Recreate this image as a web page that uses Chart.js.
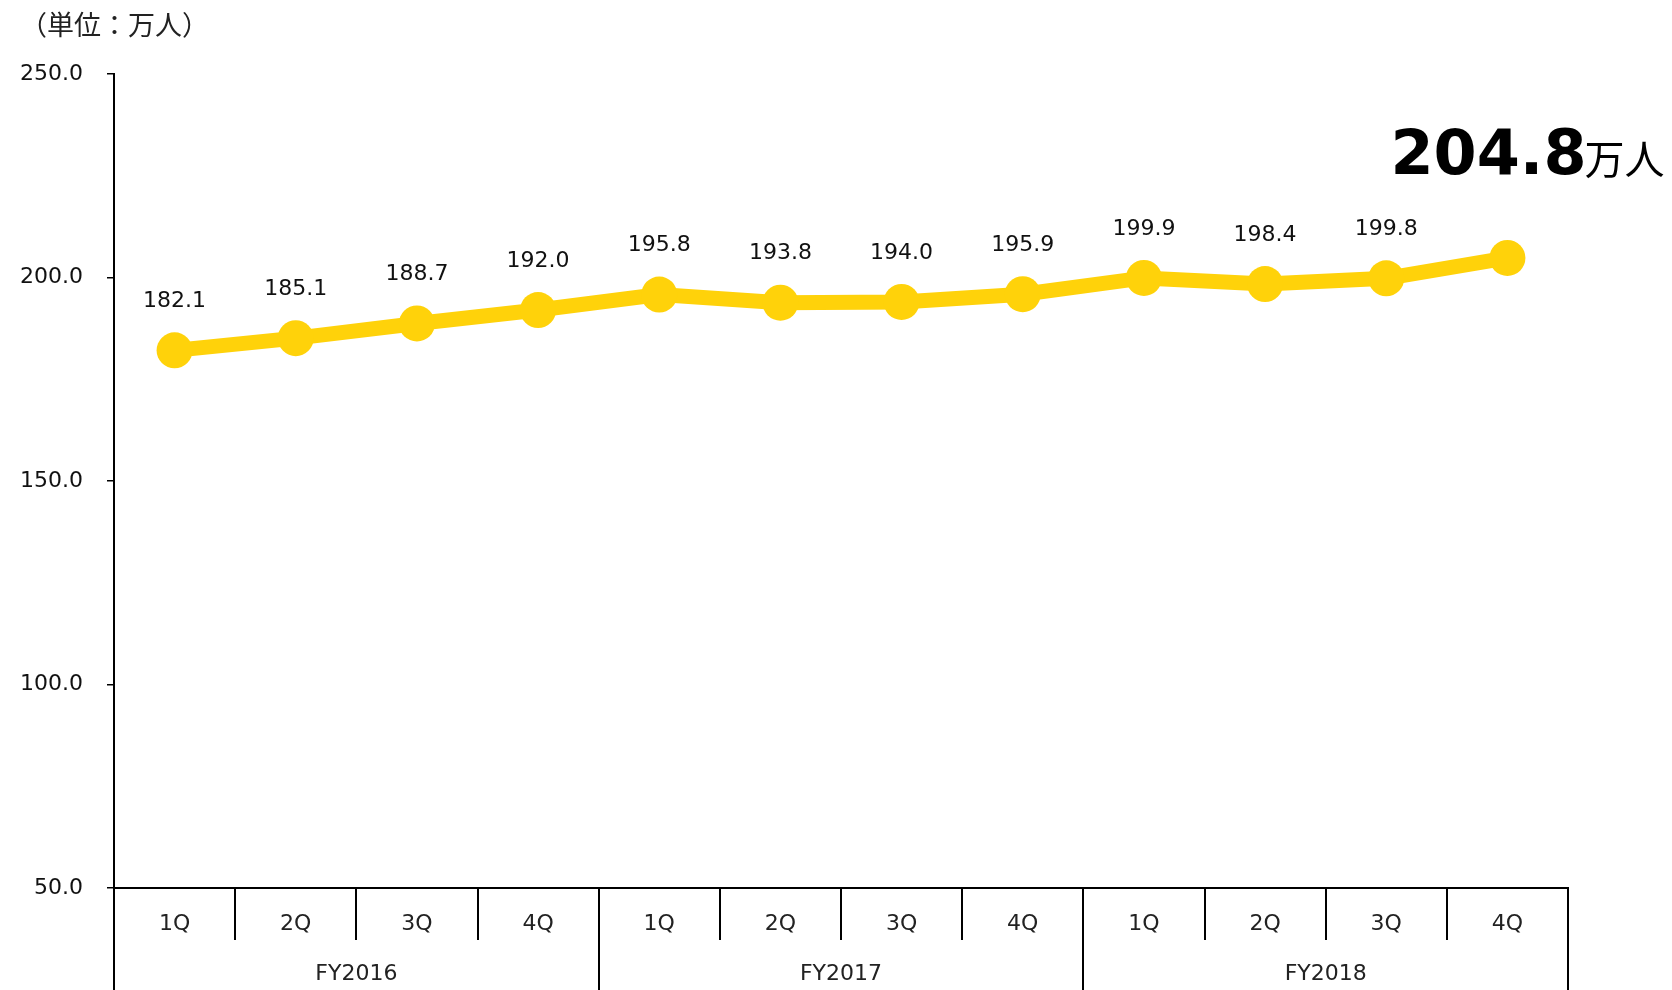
<!DOCTYPE html>
<html lang="ja">
<head>
<meta charset="UTF-8">
<title>会員数推移</title>
<script src="https://cdn.jsdelivr.net/npm/chart.js"></script>
<style>
  body { margin: 0; background: #fff; }
  #wrap { width: 1672px; height: 990px; }
</style>
</head>
<body>
<div id="wrap"><canvas id="myChart" width="1672" height="990"></canvas></div>
<script>
// データ
var quarters = ['1Q','2Q','3Q','4Q','1Q','2Q','3Q','4Q','1Q','2Q','3Q','4Q'];
var years = ['FY2016','FY2017','FY2018'];
var members = [182.1, 185.1, 188.7, 192.0, 195.8, 193.8, 194.0, 195.9, 199.9, 198.4, 199.8, 204.8];
var yTicks = [50, 100, 150, 200, 250];
var unitText = '（単位：万人）';
var unitSuffix = '万人';

var yellow = 'rgb(255, 210, 10)';

// 値ラベル・区切り線・単位など
var extras = {
  id: 'extras',
  afterDatasetsDraw: function (chart) {
    var ctx = chart.ctx;
    var pts = chart.getDatasetMeta(0).data;
    ctx.save();
    ctx.fillStyle = '#111';
    ctx.font = '22px "DejaVu Sans"';
    ctx.textAlign = 'center';
    ctx.textBaseline = 'middle';
    for (var i = 0; i < pts.length - 1; i++) {
      ctx.fillText(members[i].toFixed(1), pts[i].x, pts[i].y - 49);
    }
    // 最新値
    var last = pts[pts.length - 1];
    ctx.textAlign = 'left';
    ctx.textBaseline = 'alphabetic';
    ctx.fillStyle = '#000';
    ctx.font = 'bold 62px "DejaVu Sans"';
    var big = members[members.length - 1].toFixed(1);
    var bx = last.x - 117;
    var by = last.y - 84;
    ctx.fillText(big, bx, by);
    var w = ctx.measureText(big).width;
    ctx.font = '40px "Noto Sans CJK JP"';
    ctx.fillText(unitSuffix, bx + w - 2, by);

    // 単位
    ctx.fillStyle = '#222';
    ctx.font = '27px "Noto Sans CJK JP"';
    ctx.textBaseline = 'middle';
    ctx.fillText(unitText, 20, 25);

    // カテゴリ区切り線
    var x = chart.scales.x;
    var half = (x.getPixelForValue(1) - x.getPixelForValue(0)) / 2;
    var start = x.getPixelForValue(0) - half;
    ctx.strokeStyle = '#000';
    ctx.lineWidth = 2;
    for (var k = 0; k <= quarters.length; k++) {
      var px = Math.round(start + k * 2 * half);
      var bottom = (k % 4 === 0) ? chart.height : x.bottom - 13;
      ctx.beginPath();
      ctx.moveTo(px, x.top);
      ctx.lineTo(px, bottom);
      ctx.stroke();
    }
    ctx.restore();
  }
};

new Chart(document.getElementById('myChart'), {
  type: 'line',
  data: {
    labels: quarters,
    datasets: [{
      data: members,
      borderColor: yellow,
      backgroundColor: yellow,
      borderWidth: 15,
      pointRadius: 18,
      pointBorderWidth: 0,
      pointBackgroundColor: yellow,
      tension: 0
    }]
  },
  options: {
    responsive: false,
    animation: false,
    layout: { padding: { top: 74, right: 104, left: 0, bottom: 0 } },
    plugins: {
      legend: { display: false },
      tooltip: { enabled: false }
    },
    scales: {
      y: {
        min: 50,
        max: 250,
        afterFit: function (s) { s.width = 114; },
        afterBuildTicks: function (s) { s.ticks = yTicks.map(function (v) { return { value: v }; }); },
        border: { display: true, color: '#000', width: 2 },
        grid: { drawOnChartArea: false, drawTicks: true, tickLength: 7, color: '#000', lineWidth: 1.5 },
        ticks: {
          padding: 24,
          color: '#111',
          font: { family: 'DejaVu Sans', size: 22 },
          callback: function (v) { return Number(v).toFixed(1); }
        }
      },
      x: {
        offset: true,
        weight: 0,
        afterFit: function (s) { s.height = 65; },
        border: { display: true, color: '#000', width: 2 },
        grid: { display: false, drawTicks: false },
        ticks: { padding: 23, color: '#222', font: { family: 'DejaVu Sans', size: 22 }, maxRotation: 0, autoSkip: false }
      },
      x2: {
        type: 'category',
        labels: years,
        position: 'bottom',
        offset: true,
        weight: 1,
        afterFit: function (s) { s.height = 37; },
        border: { display: false },
        grid: { display: false, drawTicks: false },
        ticks: { padding: 8, color: '#222', font: { family: 'DejaVu Sans', size: 22 }, maxRotation: 0 }
      }
    }
  },
  plugins: [extras]
});
</script>
</body>
</html>
